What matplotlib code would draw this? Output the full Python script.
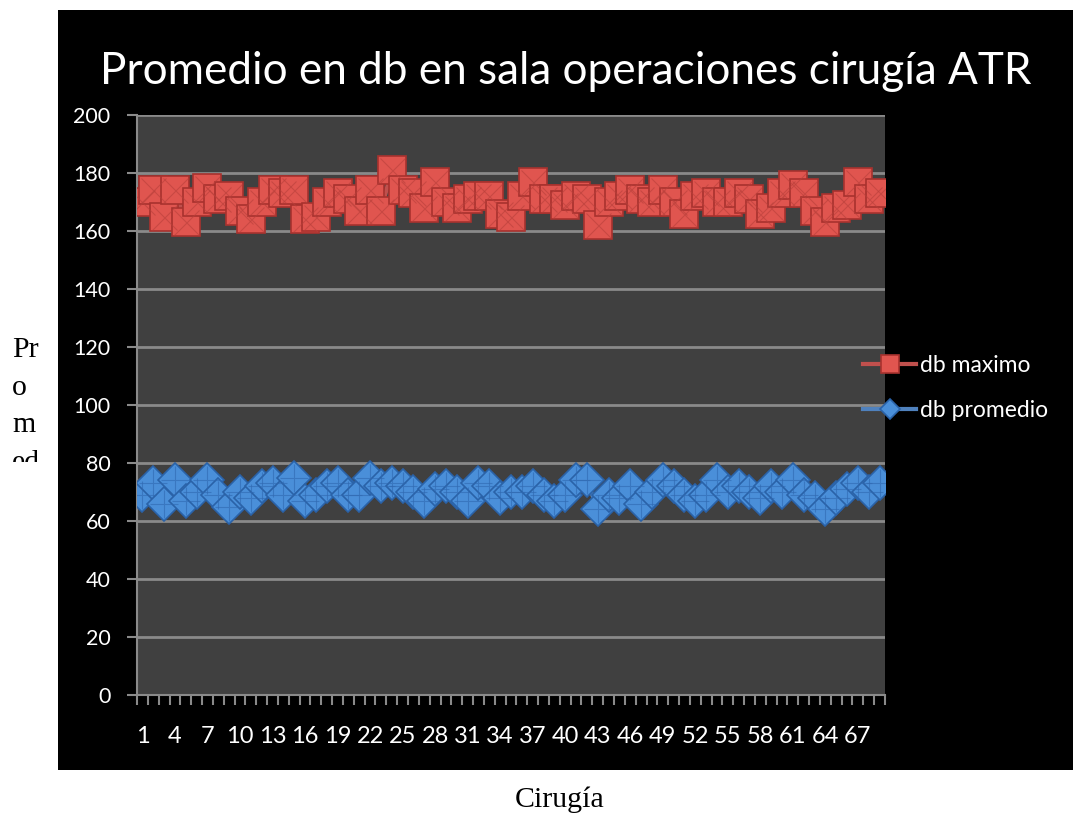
import matplotlib
matplotlib.use("Agg")
import matplotlib.pyplot as plt
from matplotlib.patches import Rectangle
from matplotlib.ticker import MultipleLocator, FixedLocator

# surgeries 1..69
surgery = list(range(1, 70))
db_maximo = [
    170, 174, 165, 174, 163, 170, 175, 171, 172, 167,
    164, 170, 174, 173, 174, 164, 165, 170, 173, 171,
    167, 174, 167, 181, 174, 173, 168, 177, 170, 168,
    171, 172, 172, 166, 165, 172, 177, 171, 171, 169,
    172, 171, 162, 170, 172, 174, 171, 170, 174, 170,
    166, 172, 173, 170, 170, 173, 171, 166, 168, 173,
    176, 173, 167, 163, 168, 169, 177, 171, 173,
]
db_promedio = [
    69, 73, 66, 74, 67, 70, 74, 69, 65, 70,
    68, 72, 73, 69, 75, 67, 69, 72, 73, 69,
    69, 75, 72, 73, 72, 70, 67, 71, 72, 70,
    67, 73, 72, 68, 70, 70, 72, 69, 67, 69,
    74, 74, 64, 69, 68, 72, 66, 70, 74, 72,
    69, 67, 69, 74, 70, 72, 70, 68, 72, 70,
    74, 69, 68, 64, 68, 71, 73, 70, 73,
]
xtick_labels = list(range(1, 70, 3))

title = "Promedio en db en sala operaciones cirugía ATR"
ylabel_text = "Pr\no\nm\ned"
xlabel_text = "Cirugía"

W, H = 1073, 816
fig = plt.figure(figsize=(W / 100, H / 100), dpi=100)
fig.patch.set_facecolor("white")

def fx(px):
    return px / W

def fy(py):
    return 1 - py / H

# black chart area
fig.add_artist(Rectangle((fx(58), fy(770)), fx(W) - fx(58), fy(10) - fy(770),
                         transform=fig.transFigure, facecolor="black",
                         edgecolor="none", zorder=0))

ax = fig.add_axes([fx(137), fy(695), fx(885) - fx(137), fy(115) - fy(695)])
ax.set_facecolor("#404040")

grid_c = "#8a8a8a"
ax.set_ylim(0, 200)
ax.set_xlim(0.5, 69.5)
ax.yaxis.set_major_locator(MultipleLocator(20))
ax.grid(axis="y", color=grid_c, lw=2, zorder=1)
ax.set_axisbelow(True)

for s in ["top", "right"]:
    ax.spines[s].set_visible(False)
for s in ["left", "bottom"]:
    ax.spines[s].set_color(grid_c)
    ax.spines[s].set_linewidth(1.5)

font = "Lato"
ax.xaxis.set_major_locator(FixedLocator(xtick_labels))
ax.xaxis.set_minor_locator(MultipleLocator(1, offset=0.5))
ax.tick_params(axis="x", which="major", length=0, pad=22,
               labelsize=17, labelcolor="white")
ax.tick_params(axis="x", which="minor", length=7, width=1.5, color=grid_c,
               direction="out")
ax.tick_params(axis="y", length=7, width=1.5, color=grid_c, pad=12,
               labelsize=15.5, labelcolor="white")
for lab in ax.get_xticklabels() + ax.get_yticklabels():
    lab.set_fontfamily(font)

red_face, red_edge = "#e0554f", "#a8322e"
blue_face, blue_edge = "#4a8fd9", "#2a62a8"

l1, = ax.plot(surgery, db_maximo, color="#c0504d", lw=3,
              marker="s", ms=20, mfc=red_face, mec=red_edge, mew=1.2,
              zorder=3, label="db maximo")
ax.plot(surgery, db_maximo, ls="none", marker="x", ms=18,
        mec="#b9403b", mew=0.8, alpha=0.6, zorder=3.1)
l2, = ax.plot(surgery, db_promedio, color="#4f81bd", lw=3,
              marker="D", ms=17, mfc=blue_face, mec=blue_edge, mew=1.2,
              zorder=3, label="db promedio")
ax.plot(surgery, db_promedio, ls="none", marker="+", ms=20,
        mec="#2f68b0", mew=0.8, alpha=0.6, zorder=3.1)

fig.text(fx(566), fy(72), title, color="white", fontsize=31.8,
         fontfamily=font, ha="center", va="center")

fig.legend(handles=[l1, l2], loc="center left",
           bbox_to_anchor=(fx(852), fy(388)), frameon=False,
           handlelength=2.3, handletextpad=0.17, labelspacing=1.05,
           markerscale=0.62, borderpad=0,
           prop={"family": font, "size": 16.5}, labelcolor="white")

fig.text(fx(12), fy(337), ylabel_text, color="black", fontsize=21.5,
         fontfamily="Liberation Serif", ha="left", va="top",
         linespacing=1.58)
fig.add_artist(Rectangle((0, 0), fx(57), fy(462),
                         transform=fig.transFigure, facecolor="white",
                         edgecolor="none", zorder=5))

fig.text(fx(560), fy(800), xlabel_text, color="black", fontsize=21.5,
         fontfamily="Liberation Serif", ha="center", va="center")

fig.savefig("out.png", dpi=100, facecolor="white")
